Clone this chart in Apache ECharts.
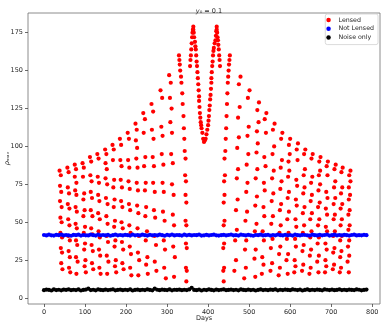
<!DOCTYPE html>
<html>
<head>
<meta charset="utf-8">
<script src="https://cdn.jsdelivr.net/npm/echarts@6/dist/echarts.min.js"></script>
<style>html,body{margin:0;padding:0;background:#fff}#c{width:386px;height:324px}</style>
</head>
<body>
<div id="c"></div>
<script>
// ---- data ----
const xTicks = [0, 100, 200, 300, 400, 500, 600, 700, 800];
const yTicks = [0, 25, 50, 75, 100, 125, 150, 175];
const seriesNames = ['Lensed', 'Not Lensed', 'Noise only'];

const lensedDays = [
  38,41,39,42,39,43,40,43,40,44,41,44,42,45,
  57,60,58,61,58,62,59,62,59,63,60,63,61,64,
  75,78,75,79,76,79,77,80,77,80,78,81,78,82,79,
  94,97,95,98,96,99,96,100,97,100,98,101,99,102,
  112,115,113,116,114,117,114,118,115,118,116,119,117,120,
  130,133,131,134,132,135,132,136,133,136,134,137,135,138,
  149,152,150,153,150,154,151,155,152,155,153,156,153,157,154,
  167,170,168,171,169,172,170,173,171,174,172,175,173,176,
  185,188,186,189,187,190,188,191,189,192,190,193,191,194,
  204,207,205,208,206,209,207,210,208,211,209,212,210,213,
  223,226,224,227,225,228,226,229,227,230,228,231,229,232,230,
  242,246,243,247,244,248,246,249,247,251,248,252,249,253,
  262,266,263,267,265,268,266,270,268,271,269,273,270,274,
  284,288,286,289,287,291,289,292,290,294,292,295,293,297,
  305,309,307,311,308,312,310,314,312,316,314,317,315,319,317,
  329,330,331,332,334,335,337,338,340,341,342,343,345,344,346,345,347,345,347,346,348,346,348,347,
  356,357,358,359,360,361,362,363,364,
  364,365,366,368,369,370,371,372,373,374,375,376,377,378,378,379,380,381,382,383,384,386,388,390,
  392,394,396,398,400,401,402,403,404,405,406,407,408,408,409,410,411,412,413,414,416,418,419,420,421,
  421,422,423,424,425,426,427,428,429,
  453,452,451,450,449,448,447,446,445,444,443,442,440,441,439,440,438,440,438,439,437,439,437,438,
  479,475,477,473,475,471,473,470,472,468,470,466,468,464,
  501,497,499,496,498,494,496,493,495,491,493,490,492,488,
  524,520,523,519,521,518,520,516,519,515,518,514,516,513,515,
  542,538,541,537,540,536,538,535,537,533,536,532,535,531,
  562,558,561,557,560,556,559,555,558,554,557,553,556,552,
  581,578,580,577,579,576,578,575,577,574,576,573,575,572,
  600,597,599,596,598,595,597,594,597,593,596,592,595,591,594,
  619,616,618,615,617,614,616,613,615,612,614,611,613,610,
  637,634,636,633,635,632,635,631,634,631,633,630,632,629,
  655,652,654,651,653,650,653,649,652,649,651,648,650,647,
  674,671,673,670,673,669,672,668,671,668,670,667,670,666,669,
  692,689,691,688,691,687,690,687,690,686,689,686,688,685,
  711,708,710,707,710,706,709,706,709,705,708,705,707,704,
  728,725,727,724,727,723,726,723,726,722,725,722,724,721,
  747,744,747,743,746,743,745,742,745,742,744,741,744,740,743
];
const lensedRho = [
  84,81,74,70,64,60,53,50,43,40,33,30,23,19,
  86,83,73,69,62,59,52,48,41,38,31,27,20,17,
  88,85,80,76,71,68,60,57,49,46,38,35,27,24,16,
  89,86,80,69,65,58,54,47,43,36,32,25,21,17,
  93,90,81,77,70,66,58,54,46,42,35,31,23,19,
  95,92,80,76,68,64,56,52,44,40,32,28,20,16,
  98,95,89,85,79,75,66,62,54,49,41,37,28,24,16,
  101,98,91,78,73,65,60,51,47,38,34,25,21,17,
  105,101,91,87,78,73,64,60,50,46,37,32,23,19,
  109,105,91,86,77,72,62,58,48,43,34,29,20,15,
  115,111,104,99,92,86,76,71,61,56,46,41,30,25,15,
  122,118,109,93,87,76,71,60,54,44,38,27,22,16,
  128,123,111,105,93,87,76,70,58,53,41,35,24,18,
  137,132,113,107,95,88,76,70,57,51,38,32,20,13,
  147,142,132,125,116,109,95,89,75,68,55,48,34,27,14,
  160,157,154,150,146,142,135,128,120,112,105,97,92,81,77,68,63,51,48,36,33,20,18,11,
  153,157,160,164,168,172,175,177,179,
  177,175,172,169,166,164,160,156,153,149,145,141,137,133,130,126,122,119,116,114,112,109,105,103,
  104,105,108,111,114,117,120,124,127,131,134,138,142,145,149,153,156,160,163,165,168,170,173,176,179,
  177,175,172,170,167,164,160,157,153,
  160,157,154,150,146,142,135,128,120,112,105,97,92,81,77,68,63,51,48,36,33,20,18,11,
  146,141,126,119,106,99,85,79,65,58,45,38,25,18,
  137,132,113,107,95,88,76,70,57,51,38,32,20,13,
  129,124,116,110,102,96,85,79,67,61,49,44,32,26,14,
  122,118,109,93,87,76,71,60,54,44,38,27,22,16,
  115,111,100,95,84,79,69,64,54,49,39,33,23,18,
  109,105,91,86,77,72,62,58,48,43,34,29,20,15,
  105,101,95,90,84,80,70,66,57,52,43,39,29,25,16,
  102,98,91,78,74,65,61,52,47,39,34,25,21,17,
  98,95,85,81,73,69,60,56,48,43,35,31,22,18,
  95,92,80,76,68,64,56,52,44,40,32,28,20,16,
  93,90,84,81,75,71,63,60,52,48,40,36,28,24,17,
  90,87,81,70,66,59,55,47,44,36,32,25,21,17,
  88,85,77,73,66,62,55,52,44,41,33,30,22,19,
  86,83,73,69,62,59,52,48,41,38,31,27,20,17,
  84,81,77,73,68,65,58,55,48,45,38,34,28,24,17
];

const sampleDays = [
  0,6,12,18,24,30,36,42,48,54,60,66,72,78,84,90,96,102,108,114,120,126,132,138,144,150,
  156,162,168,174,180,186,192,198,204,210,216,222,228,234,240,246,252,258,264,270,276,282,
  288,294,300,306,312,318,324,330,336,342,348,354,360,366,372,378,384,390,396,402,408,414,
  420,426,432,438,444,450,456,462,468,474,480,486,492,498,504,510,516,522,528,534,540,546,
  552,558,564,570,576,582,588,594,600,606,612,618,624,630,636,642,648,654,660,666,672,678,
  684,690,696,702,708,714,720,726,732,738,744,750,756,762,768,774,780,786
];
const notLensedRho = [
  41.6,41.3,41.8,41.4,41.2,41.7,41.5,41.9,41.3,41.6,41.4,
  41.1,41.7,41.5,41.8,41.2,41.6,41.4,41.3,41.9,41.5,41.2,
  41.8,41.4,41.6,41.3,41.7,41.1,41.5,41.8,41.4,41.6,41.3,
  41.7,41.5,41.2,41.9,41.4,41.6,41.3,41.8,41.5,41.2,41.7,
  41.4,41.6,41.3,41.8,41.5,41.1,41.7,41.4,41.9,41.3,41.6,
  41.5,41.2,41.8,41.4,41.7,41.3,41.6,41.5,41.9,41.2,41.4,
  41.7,41.3,41.6,41.8,41.4,41.2,41.5,41.7,41.3,41.6,41.9,
  41.4,41.5,41.2,41.8,41.6,41.3,41.7,41.4,41.1,41.6,41.5,
  41.8,41.3,41.5,41.7,41.2,41.6,41.4,41.9,41.5,41.3,41.7,
  41.4,41.6,41.2,41.8,41.5,41.3,41.7,41.6,41.4,41.2,41.8,
  41.5,41.3,41.7,41.4,41.6,41.9,41.2,41.5,41.8,41.3,41.6,
  41.4,41.7,41.5,41.2,41.6,41.8,41.3,41.5,41.4,41.7,41.5
];
const noiseRho = [
  5.2,5.6,5.4,5.0,5.7,5.3,5.5,5.1,5.6,5.4,5.8,
  5.2,5.5,5.3,5.7,5.0,5.4,5.6,6.2,5.3,5.5,5.1,
  5.7,5.4,5.2,5.6,5.3,5.5,5.8,5.1,5.4,5.6,5.2,
  5.5,5.3,5.7,5.0,5.4,5.6,5.2,5.5,5.3,5.8,5.4,5.1,
  6.3,5.5,5.2,5.6,5.4,5.3,5.7,5.1,5.5,5.4,5.6,
  5.2,5.5,5.3,5.7,6.8,5.4,5.2,5.6,5.0,5.5,5.3,
  5.7,5.4,5.1,5.6,5.3,5.5,5.8,5.2,5.4,5.6,5.3,
  5.5,5.1,5.7,5.4,5.2,5.6,5.3,5.5,5.0,5.4,5.7,
  5.3,5.5,5.2,5.6,5.4,5.8,5.1,5.5,5.3,5.6,5.4,
  5.2,5.7,5.5,5.3,5.6,5.0,5.4,5.7,5.2,5.5,5.3,
  5.6,5.4,5.1,5.7,5.5,5.3,5.6,5.2,5.4,5.8,5.3,
  5.5,5.2,5.6,5.4,5.3,5.7,5.5,5.1,5.4,5.6
];

// ---- build ----
function zip(xs, ys) {
  const n = Math.min(xs.length, ys.length);
  const out = [];
  for (let i = 0; i < n; i++) out.push([xs[i], ys[i]]);
  return out;
}
const FONT = 'DejaVu Sans';
const TXT = '#262626';
const chart = echarts.init(document.getElementById('c'), null, {renderer: 'canvas'});
chart.setOption({
  animation: false,
  textStyle: {fontFamily: FONT},
  title: {
    text: '{it|y}₀ = 0.1',
    left: 204, top: 2.5, textAlign: 'center',
    textStyle: {fontFamily: FONT, fontSize: 6.5, fontWeight: 'normal', color: TXT,
      rich: {it: {fontStyle: 'italic', fontFamily: FONT, fontSize: 6.5, color: TXT}}}
  },
  legend: {
    data: seriesNames.map(n => ({name: n, icon: 'circle'})),
    orient: 'vertical', right: 8, top: 14,
    itemWidth: 10, itemHeight: 4.5, itemGap: 0.8,
    padding: [2, 4, 3, 1],
    borderColor: '#d0d0d0', borderWidth: 0.8, borderRadius: 2, backgroundColor: '#fff',
    textStyle: {fontFamily: FONT, fontSize: 6.3, color: TXT, lineHeight: 8}
  },
  grid: {left: 28, right: 6, top: 13, bottom: 20, show: true, borderColor: '#6e6e6e', borderWidth: 0.8,
         containLabel: false, outerBoundsMode: 'none'},
  xAxis: {
    type: 'value', min: -39, max: 819,
    name: 'Days', nameLocation: 'middle', nameGap: 10.5, nameMoveOverlap: false,
    nameTextStyle: {fontFamily: FONT, fontSize: 6.5, color: TXT},
    axisLine: {show: false, onZero: false},
    splitLine: {show: false},
    axisTick: {show: true, length: 3, customValues: xTicks, lineStyle: {color: '#444', width: 0.8}},
    axisLabel: {customValues: xTicks, fontFamily: FONT, fontSize: 6.5, color: TXT, margin: 4.5}
  },
  yAxis: {
    type: 'value', min: -3.9, max: 188,
    name: 'ρₘₐₓ', nameLocation: 'middle', nameGap: 17, nameRotate: 90, nameMoveOverlap: false,
    nameTextStyle: {fontFamily: FONT, fontSize: 6.5, color: TXT, fontStyle: 'italic'},
    axisLine: {show: false, onZero: false},
    splitLine: {show: false},
    axisTick: {show: true, length: 3, customValues: yTicks, lineStyle: {color: '#444', width: 0.8}},
    axisLabel: {customValues: yTicks, fontFamily: FONT, fontSize: 6.5, color: TXT, margin: 5}
  },
  series: [
    {name: seriesNames[0], type: 'scatter', symbolSize: 4.2, itemStyle: {color: '#ff0000', opacity: 1},
     data: zip(lensedDays, lensedRho)},
    {name: seriesNames[1], type: 'scatter', symbolSize: 4.2, itemStyle: {color: '#0000ff', opacity: 1},
     data: zip(sampleDays, notLensedRho)},
    {name: seriesNames[2], type: 'scatter', symbolSize: 4.2, itemStyle: {color: '#000000', opacity: 1},
     data: zip(sampleDays, noiseRho)}
  ]
});
</script>
</body>
</html>
